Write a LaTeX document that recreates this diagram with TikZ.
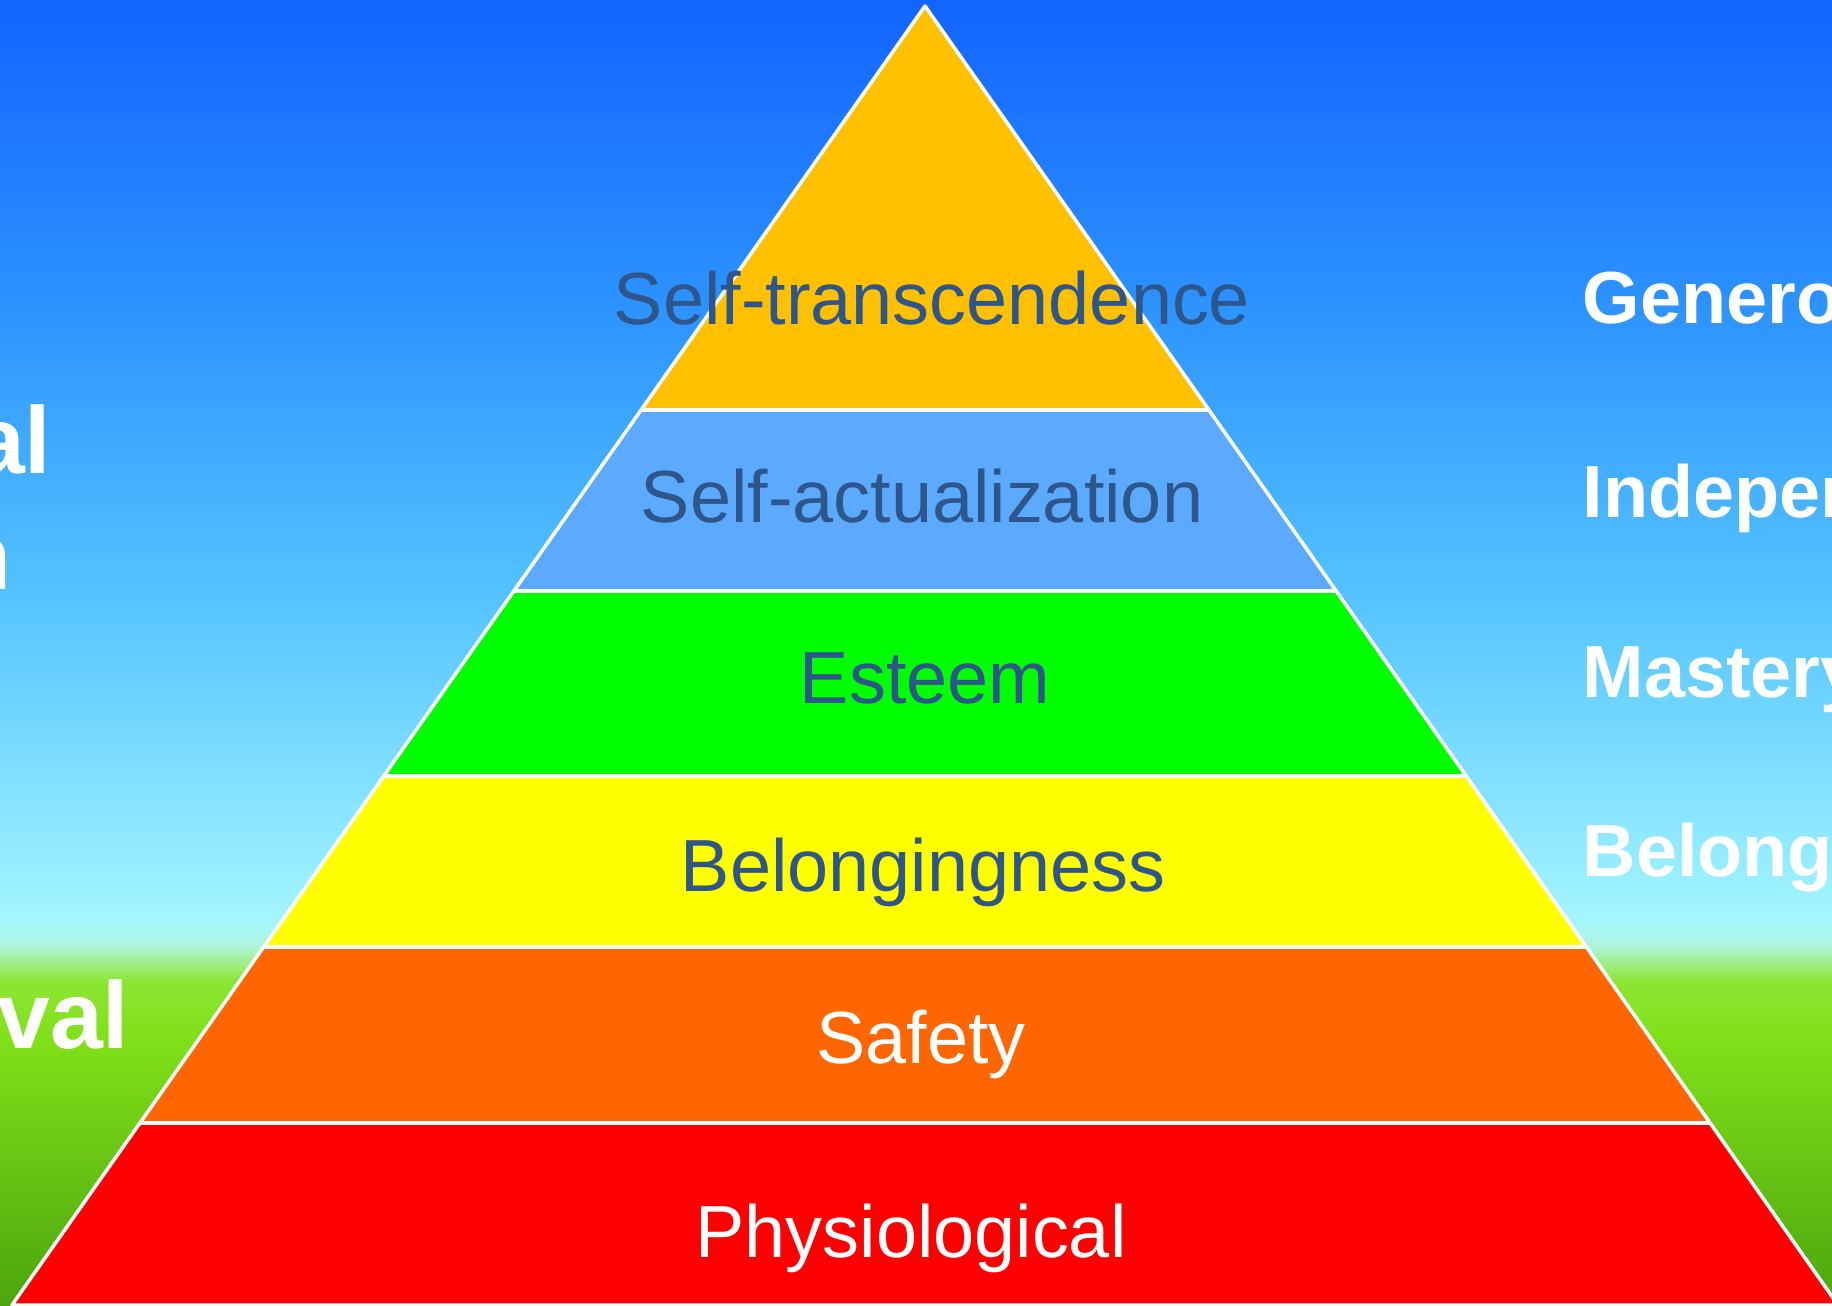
\documentclass[tikz,border=0pt]{standalone}
\usepackage{fontspec}
\setmainfont{Liberation Sans}
\usetikzlibrary{calc}
\usetikzlibrary{positioning}

\definecolor{skyA}{RGB}{18,100,255}
\definecolor{skyB}{RGB}{44,146,255}
\definecolor{skyC}{RGB}{85,196,255}
\definecolor{skyD}{RGB}{164,246,255}
\definecolor{skyE}{RGB}{176,246,220}
\definecolor{grassA}{RGB}{140,230,50}
\definecolor{grassB}{RGB}{128,224,24}
\definecolor{grassC}{RGB}{76,166,14}
\definecolor{lvgold}{RGB}{255,192,0}
\definecolor{lvblue}{RGB}{91,170,255}
\definecolor{lvgreen}{RGB}{0,255,0}
\definecolor{lvyellow}{RGB}{255,255,0}
\definecolor{lvorange}{RGB}{255,102,0}
\definecolor{lvred}{RGB}{255,0,0}
\definecolor{txtblue}{RGB}{46,86,138}

\begin{document}
\begin{tikzpicture}[x=0.01cm, y=-0.01cm]

\pgfmathsetmacro{\XA}{925}
\pgfmathsetmacro{\YA}{6}
\pgfmathsetmacro{\YB}{1305}

\tikzset{
  layer/.style={draw=white, line width=1pt, line join=round},
  ptext/.style={anchor=base, inner sep=0pt, text=txtblue, font=\fontsize{21}{25}\selectfont},
  rside/.style={anchor=base west, inner sep=0pt, text=white, font=\fontsize{21}{25}\selectfont\bfseries},
  lside/.style={rside, anchor=base east, font=\fontsize{27}{32}\selectfont\bfseries},
}

\useasboundingbox (0,0) rectangle (1832,1305);
\clip (0,0) rectangle (1832,1305);

% sky and grass
\shade [top color=skyA, bottom color=skyB] (0,0) rectangle (1832,302);
\shade [top color=skyB, bottom color=skyC] (0,300) rectangle (1832,602);
\shade [top color=skyC, bottom color=skyD] (0,600) rectangle (1832,922);
\shade [top color=skyD, bottom color=skyE] (0,920) rectangle (1832,947);
\shade [top color=skyE, bottom color=grassA] (0,945) rectangle (1832,982);
\shade [top color=grassA, bottom color=grassB] (0,980) rectangle (1832,1042);
\shade [top color=grassB, bottom color=grassC] (0,1040) rectangle (1832,1305);

\coordinate (P) at (\XA,\YA);
\coordinate (BL) at (12,\YB);
\coordinate (BR) at (1838,\YB);

\foreach \n/\y in {0/6,1/410,2/591,3/776,4/947,5/1123,6/1305}{
  \coordinate (L\n) at ($(P)!{(\y-\YA)/(\YB-\YA)}!(BL)$);
  \coordinate (R\n) at ($(P)!{(\y-\YA)/(\YB-\YA)}!(BR)$);
}

\foreach \i/\col in {1/lvgold,2/lvblue,3/lvgreen,4/lvyellow,5/lvorange,6/lvred}{
  \pgfmathtruncatemacro{\j}{\i-1}
  \draw [layer, fill=\col] (L\j) -- (L\i) -- (R\i) -- (R\j) -- cycle;
}

\node [ptext] (T1) at (932,324) {Self-transcendence};
\node [ptext] (T2) at (922,522) {Self-actualization};
\node [ptext] (T3) at (925,703) {Esteem};
\node [ptext] (T4) at (923,891) {Belongingness};
\node [ptext, text=white] (T5) at (921,1063) {Safety};
\node [ptext, text=white] (T6) at (911,1257) {Physiological};

\node [rside] (R1) at (1582,323) {Genero};
\node [rside] (R2) at (1582,517) {Indepen};
\node [rside] (R3) at (1582,697) {Mastery};
\node [rside] (R4) at (1582,876) {Belong};

\node [lside] (S1) at (52,473) {al};
\node [lside] (S2) at (12,589) {n};
\node [lside] (S3) at (130,1048) {val};

\end{tikzpicture}
\end{document}
